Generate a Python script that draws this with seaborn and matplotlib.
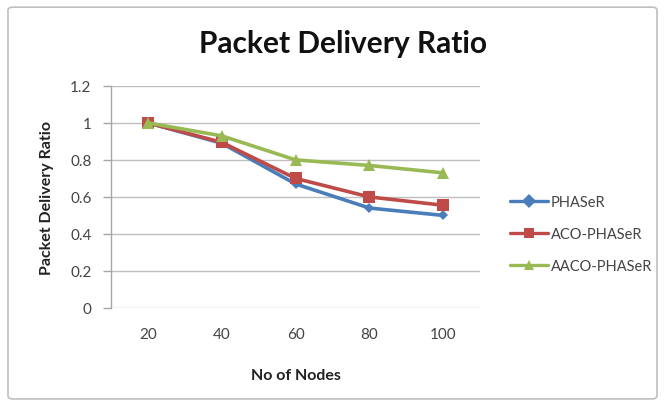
import matplotlib
matplotlib.use("Agg")
import matplotlib.pyplot as plt
import seaborn as sns
import pandas as pd
from matplotlib.patches import FancyBboxPatch

nodes = ["20", "40", "60", "80", "100"]
phaser = [1.0, 0.89, 0.67, 0.54, 0.50]
aco_phaser = [1.0, 0.895, 0.70, 0.60, 0.555]
aaco_phaser = [1.0, 0.93, 0.80, 0.77, 0.73]
series_names = ["PHASeR", "ACO-PHASeR", "AACO-PHASeR"]
y_ticks = [0, 0.2, 0.4, 0.6, 0.8, 1, 1.2]
y_tick_labels = ["0", "0.2", "0.4", "0.6", "0.8", "1", "1.2"]

df = pd.DataFrame({
    "No of Nodes": nodes * 3,
    "Packet Delivery Ratio": phaser + aco_phaser + aaco_phaser,
    "Protocol": [s for s in series_names for _ in nodes],
})

sns.set_theme(style="white")
plt.rcParams["font.family"] = ["Lato", "DejaVu Sans"]

fig = plt.figure(figsize=(6.65, 4.06), dpi=100)
ax = fig.add_axes([0.167, 0.239, 0.555, 0.547])

palette = {"PHASeR": "#4A7EBB", "ACO-PHASeR": "#BE4B48", "AACO-PHASeR": "#98B954"}
markers = {"PHASeR": "D", "ACO-PHASeR": "s", "AACO-PHASeR": "^"}
sizes_m = {"PHASeR": 5.5, "ACO-PHASeR": 9, "AACO-PHASeR": 9}

sns.lineplot(data=df, x="No of Nodes", y="Packet Delivery Ratio", hue="Protocol",
             style="Protocol", markers=markers, dashes=False, palette=palette,
             linewidth=2.6, markersize=7, markeredgewidth=0, ax=ax, sort=False)

for line, name in zip(ax.get_lines(), series_names):
    line.set_markersize(sizes_m[name])

ax.set_xlim(-0.5, 4.5)
ax.set_ylim(0, 1.2)
ax.set_yticks(y_ticks)
ax.set_yticklabels(y_tick_labels)
ax.yaxis.grid(True, color="#BFBFBF", linewidth=1.0)
ax.xaxis.grid(False)
for side in ["top", "right", "bottom"]:
    ax.spines[side].set_visible(False)
ax.spines["left"].set_color("#A6A6A6")
ax.spines["left"].set_linewidth(1.0)
ax.tick_params(axis="y", left=True, length=6, width=1.0, color="#A6A6A6",
               labelsize=11, labelcolor="#444444", pad=8)
ax.tick_params(axis="x", bottom=False, length=0, labelsize=11,
               labelcolor="#444444", pad=14)

ax.set_xlabel("No of Nodes", fontsize=11.5, fontweight="bold", color="#222222")
ax.set_ylabel("Packet Delivery Ratio", fontsize=11.5, fontweight="bold", color="#222222")
ax.xaxis.set_label_coords(0.5, -0.27)
ax.yaxis.set_label_coords(-0.155, 0.5)
fig.suptitle("Packet Delivery Ratio", x=0.516, y=0.925, fontsize=21.5, fontweight="bold",
             color="#111111")

handles, labels = ax.get_legend_handles_labels()
for h in handles:
    h.set_linewidth(2.4)
ax.legend(handles, labels, loc="center left", bbox_to_anchor=(1.081, 0.333),
          frameon=False, fontsize=10.5, handlelength=2.6, handletextpad=0.2,
          labelspacing=1.25, borderpad=0, borderaxespad=0, labelcolor="#444444")

border = FancyBboxPatch((0.012, 0.015), 0.976, 0.965, boxstyle="round,pad=0,rounding_size=0.008",
                        transform=fig.transFigure, facecolor="none",
                        edgecolor="#BFBFBF", linewidth=1.2)
fig.patches.append(border)

fig.savefig("out.png", dpi=100)
